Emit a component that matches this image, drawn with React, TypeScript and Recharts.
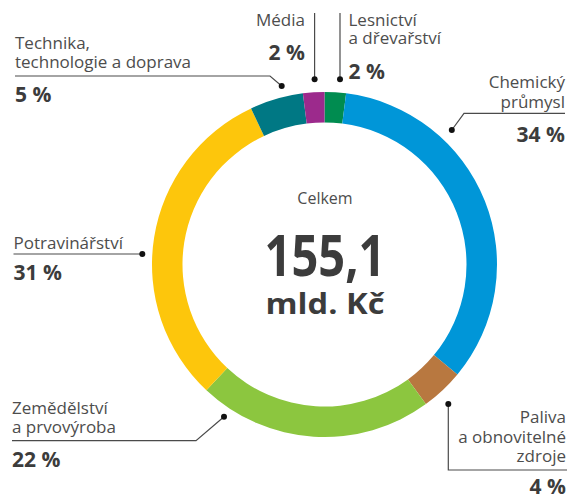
import React from 'react';
import { PieChart, Pie, Cell } from 'recharts';

const categories = [
  'Lesnictví a dřevařství',
  'Chemický průmysl',
  'Paliva a obnovitelné zdroje',
  'Zemědělství a prvovýroba',
  'Potravinářství',
  'Technika, technologie a doprava',
  'Média',
];
const labelLines = [
  ['Lesnictví', 'a dřevařství'],
  ['Chemický', 'průmysl'],
  ['Paliva', 'a obnovitelné', 'zdroje'],
  ['Zemědělství', 'a prvovýroba'],
  ['Potravinářství'],
  ['Technika,', 'technologie a doprava'],
  ['Média'],
];
const shares = [2, 34, 4, 22, 31, 5, 2];
const totalTitle = 'Celkem';
const totalValue = '155,1';
const totalUnit = 'mld. Kč';

const colors = ['#008C50', '#0096D8', '#B87840', '#8CC63F', '#FDC60C', '#007884', '#9C2A8C'];

const data = categories.map((name, i) => ({ name, value: shares[i] }));

// label layout, offsets relative to the pie centre
type Layout = {
  path: number[][];
  anchor: 'start' | 'end';
  tx: number;
  lines: number[];
  pct: number;
};
const layout: Layout[] = [
  { path: [[15.5, -185.2], [15.5, -251.5]], anchor: 'start', tx: 24, lines: [-238.5, -220.5], pct: -185.5 },
  { path: [[127.3, -134.5], [139.5, -151.2], [240.5, -151.2]], anchor: 'end', tx: 240.5, lines: [-176.5, -156.5], pct: -122.5 },
  { path: [[123.8, 139.5], [123.8, 205.5], [242.5, 205.5]], anchor: 'end', tx: 241.5, lines: [158.5, 178.5, 197.5], pct: 229.5 },
  { path: [[-100.5, 152.2], [-128.5, 176.2], [-312.5, 176.2]], anchor: 'start', tx: -312.5, lines: [149.5, 168.5], pct: 202.5 },
  { path: [[-182.2, -10.5], [-311, -10.5]], anchor: 'start', tx: -311, lines: [-15.5], pct: 15.5 },
  { path: [[-42.8, -178.5], [-54.5, -188.5], [-309.5, -188.5]], anchor: 'start', tx: -309.5, lines: [-215.5, -196.5], pct: -162.5 },
  { path: [[-9.9, -185.2], [-9.9, -251.5]], anchor: 'end', tx: -19.5, lines: [-238.5], pct: -204.5 },
];

const FONT = '"Open Sans", "Noto Sans", sans-serif';

const renderLabel = (props: any) => {
  const { cx, cy, index } = props;
  const l = layout[index];
  const d = l.path.map((p, i) => `${i === 0 ? 'M' : 'L'}${cx + p[0]},${cy + p[1]}`).join(' ');
  return (
    <g key={`lbl-${index}`}>
      <path d={d} stroke="#4a4a4a" strokeWidth={1.2} fill="none" />
      <circle cx={cx + l.path[0][0]} cy={cy + l.path[0][1]} r={3} fill="#111" />
      {labelLines[index].map((t, j) => (
        <text key={j} x={cx + l.tx} y={cy + l.lines[j]} textAnchor={l.anchor} fontFamily={FONT} fontSize={17} fill="#4d4d4d">
          {t}
        </text>
      ))}
      <text x={cx + l.tx} y={cy + l.pct} textAnchor={l.anchor} fontFamily={FONT} fontSize={21} fontWeight={700} fill="#3c3c3c">
        {`${shares[index]} %`}
      </text>
      {index === 0 && (
        <g>
          <text x={cx + 0.5} y={cy - 61} textAnchor="middle" fontFamily={FONT} fontSize={16} fill="#4d4d4d">
            {totalTitle}
          </text>
          <text x={cx + 0.5} y={cy + 11.5} textAnchor="middle" fontFamily={FONT} fontSize={58} fontWeight={700} fill="#3c3c3c" textLength={121} lengthAdjust="spacingAndGlyphs">
            {totalValue}
          </text>
          <text x={cx + 0.5} y={cy + 49.5} textAnchor="middle" fontFamily={FONT} fontSize={29} fontWeight={700} fill="#3c3c3c" textLength={119} lengthAdjust="spacingAndGlyphs">
            {totalUnit}
          </text>
        </g>
      )}
    </g>
  );
};

export default function App() {
  return (
    <div style={{ position: 'absolute', left: 0, top: 0, width: 572, height: 496, background: '#fff' }}>
      <PieChart width={572} height={496} margin={{ top: 0, right: 0, bottom: 0, left: 0 }}>
        <Pie
          data={data}
          dataKey="value"
          nameKey="name"
          cx={324.5}
          cy={264.5}
          innerRadius={142}
          outerRadius={172.5}
          startAngle={90}
          endAngle={-270}
          stroke="none"
          label={renderLabel}
          labelLine={false}
          isAnimationActive={false}
        >
          {data.map((_, i) => (
            <Cell key={i} fill={colors[i]} />
          ))}
        </Pie>
      </PieChart>
    </div>
  );
}
